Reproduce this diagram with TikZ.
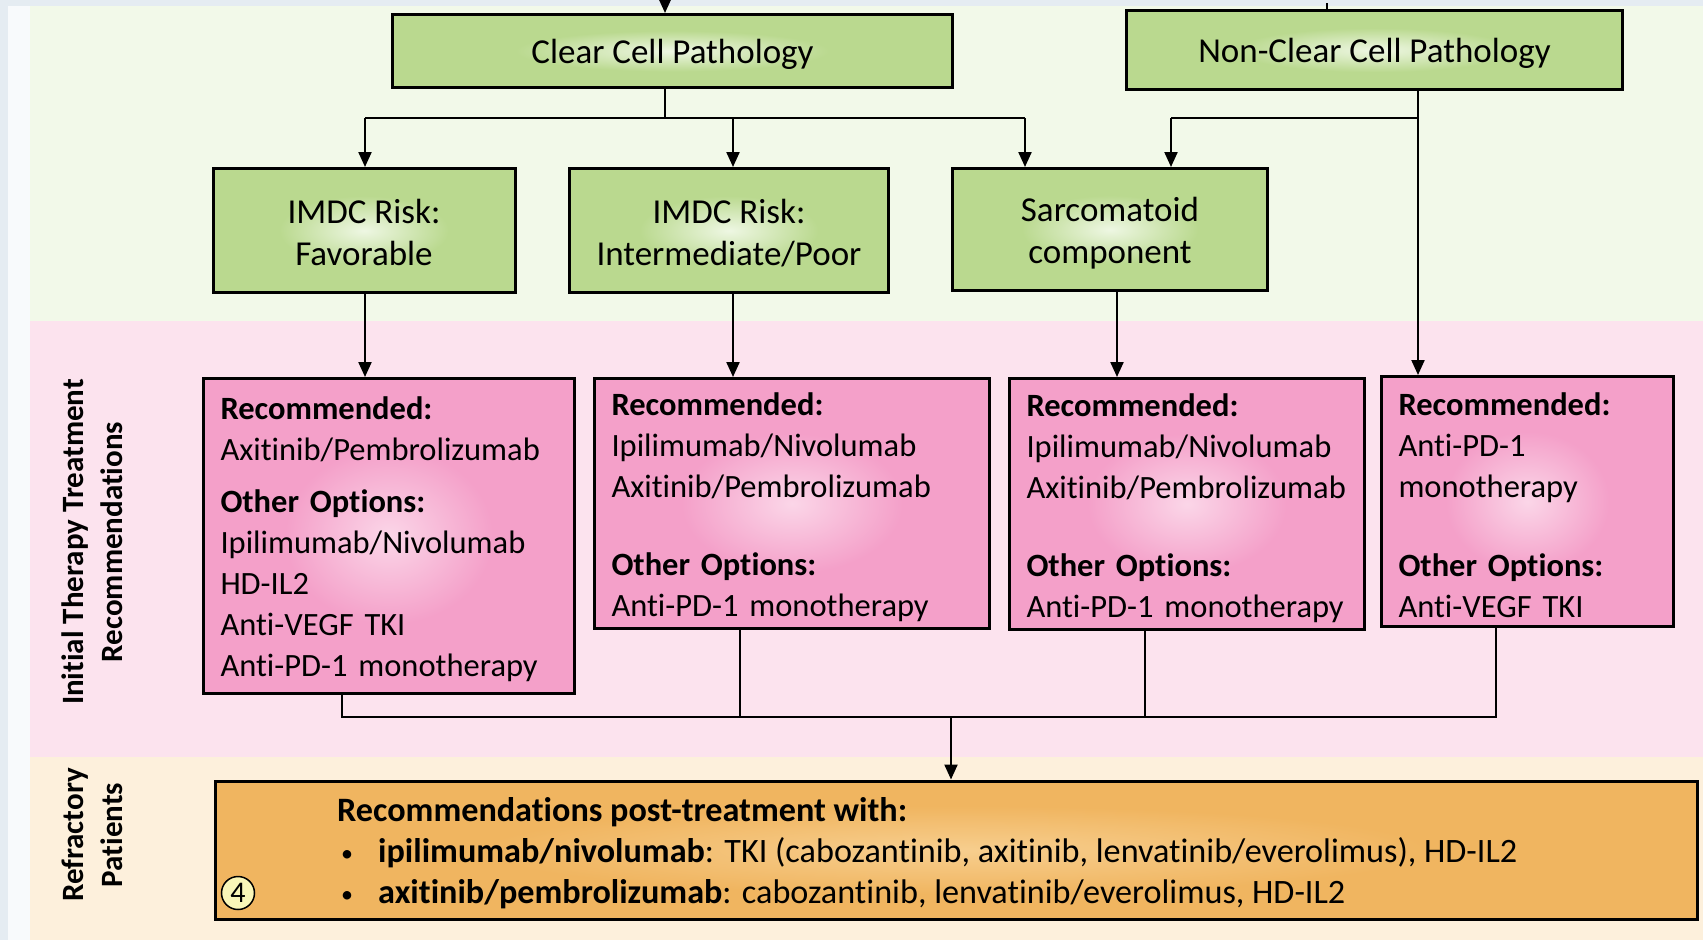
\documentclass[tikz,border=0pt]{standalone}
\usepackage{fontspec}
\setmainfont[Ligatures=NoCommon]{Carlito}
\usetikzlibrary{arrows.meta}

% palette
\definecolor{edgeblue}{HTML}{E5ECF2}
\definecolor{edgewhite}{HTML}{F8FAFC}
\definecolor{bandgreen}{HTML}{F2F9E9}
\definecolor{bandpink}{HTML}{FCE3EE}
\definecolor{bandbeige}{HTML}{FDF0DC}
\definecolor{boxgreen}{HTML}{BAD98F}
\definecolor{glowgreen}{HTML}{EEF7E3}
\definecolor{boxpink}{HTML}{F4A0C9}
\definecolor{glowpink}{HTML}{FBD6E8}
\definecolor{boxorange}{HTML}{F0B560}
\definecolor{gloworange}{HTML}{F7CE8E}
\definecolor{badgeyellow}{HTML}{F9F6B8}

% soft light spot in the middle of each box
\pgfdeclareradialshading{greenglow}{\pgfpointorigin}{color(0bp)=(glowgreen); color(14bp)=(boxgreen); color(50bp)=(boxgreen)}
\pgfdeclareradialshading{pinkglow}{\pgfpointorigin}{color(0bp)=(glowpink); color(14bp)=(boxpink); color(50bp)=(boxpink)}
\pgfdeclareradialshading{orangeglow}{\pgfpointorigin}{color(0bp)=(gloworange); color(16bp)=(boxorange); color(50bp)=(boxorange)}

% top strut that lowers a text block a little inside its box
\newcommand{\topgap}[1]{\rule{0pt}{#1}}
\newcommand{\dotitem}{\hspace*{4pt}\makebox[37pt][l]{\fontsize{24}{24}\selectfont\raisebox{1pt}{•}}}

\tikzset{
  gbox/.style={draw=black, line width=3pt, shade, shading=greenglow, align=center,
    inner sep=0pt, font=\fontsize{35}{42}\selectfont},
  pbox/.style={draw=black, line width=3pt, shade, shading=pinkglow, align=left,
    inner xsep=17pt, inner ysep=0pt, font=\fontsize{32.5}{41}\selectfont},
  obox/.style={draw=black, line width=3pt, shade, shading=orangeglow, inner sep=0pt},
  sidelabel/.style={rotate=90, align=center, font=\fontsize{31}{39}\selectfont\bfseries},
  conn/.style={line width=2.2pt},
  arr/.style={conn, -{Triangle[length=15pt,width=13pt]}},
  badge/.style={circle, draw=black, line width=1.5pt, fill=badgeyellow, minimum size=33pt,
    inner sep=0pt, font=\fontsize{30}{30}\selectfont}
}

\begin{document}
\begin{tikzpicture}[x=1pt, y=-1pt]
\useasboundingbox (0,0) rectangle (1703,940);

% background bands
\fill[edgeblue] (0,0) rectangle (1703,940);
\fill[edgewhite] (8,6) rectangle (30,940);
\fill[bandgreen] (30,6) rectangle (1703,321);
\fill[bandpink] (30,321) rectangle (1703,757);
\fill[bandbeige] (30,757) rectangle (1703,940);

% row labels
\node[sidelabel] (lblinit) at (92,542) {Initial Therapy Treatment\\Recommendations};
\node[sidelabel] (lblref) at (92,835) {Refractory\\Patients};

% pathology
\node[gbox, minimum width=560pt, minimum height=73pt] (ccp) at (672.5,51) {\topgap{31pt}Clear Cell Pathology};
\node[gbox, minimum width=496pt, minimum height=79pt] (ncp) at (1374.5,50) {\topgap{32pt}Non-Clear Cell Pathology};

% risk groups
\node[gbox, minimum width=302pt, minimum height=124pt] (fav) at (364,230.5) {\topgap{29pt}IMDC Risk:\\Favorable};
\node[gbox, minimum width=319pt, minimum height=124pt] (imp) at (729,230.5) {\topgap{29pt}IMDC Risk:\\Intermediate/Poor};
\node[gbox, minimum width=315pt, minimum height=122pt] (sar) at (1110,229.5) {\topgap{31pt}Sarcomatoid\\component};

% initial therapy
\node[pbox, text width=337pt, minimum height=315pt] (r1) at (389,536)
  {\topgap{29pt}\textbf{Recommended:}\\Axitinib/Pembrolizumab\\[11pt]\textbf{Other Options:}\\Ipilimumab/Nivolumab\\HD-IL2\\Anti-VEGF TKI\\Anti-PD-1 monotherapy};
\node[pbox, text width=361pt, minimum height=250pt] (r2) at (792,503.5)
  {\topgap{31pt}\textbf{Recommended:}\\Ipilimumab/Nivolumab\\Axitinib/Pembrolizumab\\[37pt]\textbf{Other Options:}\\Anti-PD-1 monotherapy};
\node[pbox, text width=321pt, minimum height=251pt] (r3) at (1187,504)
  {\topgap{31pt}\textbf{Recommended:}\\Ipilimumab/Nivolumab\\Axitinib/Pembrolizumab\\[37pt]\textbf{Other Options:}\\Anti-PD-1 monotherapy};
\node[pbox, text width=258pt, minimum height=250pt] (r4) at (1527.5,501.5)
  {\topgap{31pt}\textbf{Recommended:}\\Anti-PD-1\\monotherapy\\[38pt]\textbf{Other Options:}\\Anti-VEGF TKI};

% refractory patients
\node[obox, minimum width=1482pt, minimum height=138pt] (post) at (956.5,850) {};
\node[anchor=west, align=left, inner sep=0pt, font=\fontsize{34.2}{41}\selectfont] (posttxt) at (337,853)
  {\textbf{Recommendations post-treatment with:}\\
   \dotitem\textbf{ipilimumab/nivolumab}: TKI (cabozantinib, axitinib, lenvatinib/everolimus), HD-IL2\\
   \dotitem\textbf{axitinib/pembrolizumab}: cabozantinib, lenvatinib/everolimus, HD-IL2};
\node[badge] (num) at (238,893) {4};

% incoming lines from above
\coordinate (ccin) at (665,0);
\coordinate (ncin) at (1327,3);
\draw[arr] (ccin) -- (ccin |- ccp.north);
\draw[conn] (ncin) -- (ncin |- ncp.north);

% clear cell split
\coordinate (ccsplit) at (665,118);
\coordinate (bl) at (365,118);
\coordinate (bm) at (733,118);
\coordinate (br) at (1025,118);
\draw[conn] (ccp.south -| ccsplit) -- (ccsplit);
\draw[conn] (bl) -- (br);
\draw[arr] (bl) -- (bl |- fav.north);
\draw[arr] (bm) -- (bm |- imp.north);
\draw[arr] (br) -- (br |- sar.north);

% non-clear cell split
\coordinate (nsplit) at (1418,118);
\coordinate (nl) at (1171,118);
\draw[conn] (nsplit) -- (nl);
\draw[arr] (nl) -- (nl |- sar.north);
\draw[arr] (ncp.south -| nsplit) -- (nsplit |- r4.north);

% risk groups to therapy
\coordinate (sx) at (1117,300);
\draw[arr] (fav.south -| bl) -- (bl |- r1.north);
\draw[arr] (imp.south -| bm) -- (bm |- r2.north);
\draw[arr] (sar.south -| sx) -- (sx |- r3.north);

% therapy to refractory
\coordinate (m1) at (342,717);
\coordinate (m2) at (740,717);
\coordinate (m3) at (1145,717);
\coordinate (m4) at (1496,717);
\coordinate (mj) at (951,717);
\draw[conn] (r1.south -| m1) -- (m1) -- (m4) -- (r4.south -| m4);
\draw[conn] (r2.south -| m2) -- (m2);
\draw[conn] (r3.south -| m3) -- (m3);
\draw[arr] (mj) -- (mj |- post.north);
\end{tikzpicture}
\end{document}
